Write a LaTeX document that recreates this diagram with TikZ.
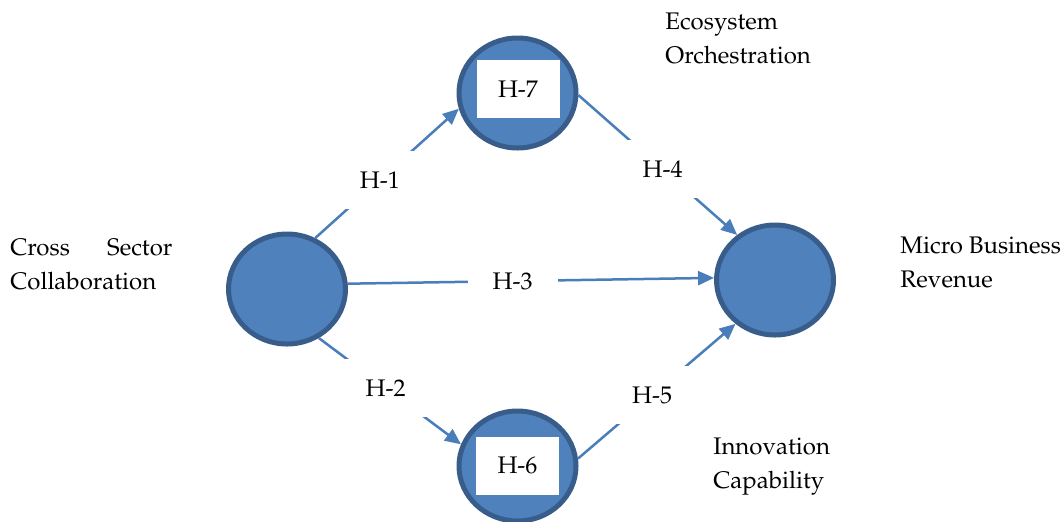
\documentclass[tikz,border=0pt]{standalone}
\usepackage[T1]{fontenc}
\usepackage{mathpazo}
\usetikzlibrary{arrows.meta,shapes.geometric}

\definecolor{fillblue}{HTML}{4F81BD}
\definecolor{edgeblue}{HTML}{385D8A}
\definecolor{lineblue}{HTML}{4A7EBB}

\newcommand*{\picw}{1064}
\newcommand*{\pich}{521}

\begin{document}
\begin{tikzpicture}
[
	construct/.style={ellipse,draw=edgeblue,fill=fillblue,line width=2.5pt,minimum width=58.5pt,minimum height=55pt,inner sep=0pt},
	hbox/.style={fill=white,minimum width=41.5pt,minimum height=29pt,inner sep=0pt},
	hlabel/.style={fill=white,minimum width=45pt,minimum height=29pt,inner sep=0pt},
	hyp/.style={draw=lineblue,line width=1.25pt,-{Triangle[length=8pt,width=7pt]}},
	cname/.style={anchor=base west,align=left,inner sep=0pt},
	font=\fontsize{12pt}{17pt}\selectfont,
	x=0.5pt,
	y=-0.5pt
]

	\useasboundingbox (0,0) rectangle (\picw,\pich);

	% constructs
	\node[construct] (cs) at (287,289) {};
	\node[construct] (eo) at (517.5,93) {};
	\node[construct] (ic) at (517.5,466) {};
	\node[construct] (mb) at (775,280) {};

	\node[hbox] (h7) at (518,89) {H-7};
	\node[hbox] (h6) at (517.5,465.5) {H-6};

	% names (base = last line, except the justified one)
	\node[cname,text width=81pt] (csname) at (10,255) {Cross\hfill Sector\\Collaboration};
	\node[cname] (eoname) at (665,63) {Ecosystem\\Orchestration};
	\node[cname] (mbname) at (900,287) {Micro Business\\Revenue};
	\node[cname] (icname) at (713,488) {Innovation\\Capability};

	% hypotheses
	\draw[hyp] (cs.61) -- node[hlabel,pos=0.45] {H-1} (eo.195);
	\draw[hyp] (eo.-2) -- node[hlabel,pos=0.53] {H-4} (mb.130);
	\draw[hyp] (cs.5) -- node[hlabel,pos=0.45] {H-3} (mb.178);
	\draw[hyp] (cs.-57) -- node[hlabel,pos=0.47] {H-2} (ic.159);
	\draw[hyp] (ic.7) -- node[hlabel,pos=0.47] {H-5} (mb.228);

\end{tikzpicture}
\end{document}
